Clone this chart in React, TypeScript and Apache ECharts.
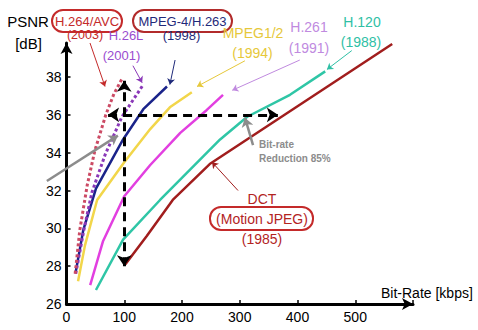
import React, { useEffect, useRef } from "react";
import * as echarts from "echarts";

// Curves: [bit-rate kbps, PSNR dB]
const dct = [[102, 28.1], [139, 29.6], [184, 31.5], [248, 33.4], [564, 39.75]];
const h120 = [[51, 26.74], [98, 29.4], [162, 31.5], [214, 33.1], [266, 34.7], [313, 35.9], [387, 37.06], [448, 38.3]];
const h261 = [[41, 27.0], [63, 29.3], [100, 31.7], [145, 33.35], [197, 35.05], [243, 36.26], [271, 37.06]];
const mpeg12 = [[20, 27.2], [32, 29.1], [53, 31.5], [100, 33.5], [145, 35.25], [179, 36.4], [217, 37.2]];
const mpeg4 = [[16, 27.7], [29, 29.9], [51, 32.1], [98, 34.7], [133, 36.3], [174, 37.5]];
const h26l = [[16, 27.6], [30, 29.9], [44, 31.9], [67, 33.9], [96, 35.9], [133, 37.6]];
const h264 = [[15, 27.6], [23, 29.9], [36, 32.3], [49, 34.1], [68, 36.0], [82, 37.1], [96, 37.9]];

// Annotation arrows (data coordinates)
const dashedArrows = [
  [[100, 28.0], [100, 37.8]],
  [[72, 36.0], [366, 36.0]],
];
const grayArrows = [
  [[-34, 32.5], [89, 34.9]],
  [[323, 34.4], [309, 35.85]],
];
const labelArrows = [
  { c: [[40.7, 39.8], [66.7, 37.5]], color: "#c42a2a" },
  { c: [[115, 38.6], [131, 37.7]], color: "#8a38b8" },
  { c: [[188, 38.9], [179, 37.6]], color: "#1f2a7a" },
  { c: [[309, 38.86], [226, 37.5]], color: "#e6c83a" },
  { c: [[404, 38.9], [287, 37.3]], color: "#c08adf" },
  { c: [[494, 39.4], [451, 38.4]], color: "#2fbfa5" },
  { c: [[297, 32.0], [252, 33.5]], color: "#a11d1d" },
];

const FONT = '"Liberation Sans", Arial, sans-serif';

export default function App() {
  const ref = useRef<HTMLDivElement>(null);
  useEffect(() => {
    const chart = echarts.init(ref.current!, null, { renderer: "svg" });
    const curve = (name: string, data: number[][], color: string, dotted = false) => ({
      name,
      type: "line",
      data,
      showSymbol: false,
      symbol: "none",
      clip: false,
      lineStyle: { color, width: dotted ? 3 : 2.5, type: dotted ? [3, 2.5] : "solid" },
      z: 3,
    });
    const txt = (text: string, x: number, y: number, color: string, size: number, align = "center", weight = "normal") => ({
      type: "text",
      x,
      y,
      z: 10,
      style: { text, fill: color, font: `${weight} ${size}px ${FONT}`, align, verticalAlign: "middle" },
    });
    const box = (x: number, y: number, w: number, h: number, color: string) => ({
      type: "rect",
      z: 9,
      shape: { x, y, width: w, height: h, r: 11 },
      style: { fill: "none", stroke: color, lineWidth: 2 },
    });
    chart.setOption({
      animation: false,
      backgroundColor: "#ffffff",
      grid: { left: 66.5, right: 65, top: 43, bottom: 26 },
      xAxis: {
        type: "value",
        min: 0,
        max: 600,
        interval: 100,
        splitLine: { show: false },
        axisLine: { lineStyle: { color: "#000", width: 3 }, symbol: ["none", "arrow"], symbolSize: [9, 11] },
        axisTick: { inside: true, length: 4, lineStyle: { color: "#000", width: 1.5 } },
        axisLabel: {
          color: "#000",
          fontSize: 14,
          fontFamily: FONT,
          margin: 6,
          formatter: (v: number) => (v <= 500 ? String(v) : ""),
        },
      },
      yAxis: {
        type: "value",
        min: 26,
        max: 39.8,
        interval: 2,
        splitLine: { show: false },
        axisLine: { lineStyle: { color: "#000", width: 3 }, symbol: ["none", "arrow"], symbolSize: [9, 11] },
        axisTick: { inside: true, length: 4, lineStyle: { color: "#000", width: 1.5 } },
        axisLabel: {
          color: "#000",
          fontSize: 14,
          fontFamily: FONT,
          margin: 5,
          showMaxLabel: false,
          formatter: (v: number) => (v % 2 === 0 ? String(v) : ""),
        },
      },
      series: [
        curve("DCT", dct, "#a11d1d"),
        curve("H.120", h120, "#2fc6a6"),
        curve("H.261", h261, "#e23fe0"),
        curve("MPEG1/2", mpeg12, "#f2d64a"),
        curve("MPEG-4/H.263", mpeg4, "#1a238a"),
        curve("H.26L", h26l, "#8a38b8", true),
        curve("H.264/AVC", h264, "#cc4a64", true),
        {
          type: "lines",
          coordinateSystem: "cartesian2d",
          clip: false,
          z: 5,
          symbol: ["arrow", "arrow"],
          symbolSize: 11,
          lineStyle: { color: "#000", width: 3, type: [9, 6], opacity: 1 },
          data: dashedArrows.map((c) => ({ coords: c })),
        },
        {
          type: "lines",
          coordinateSystem: "cartesian2d",
          clip: false,
          z: 6,
          symbol: ["none", "arrow"],
          symbolSize: 9,
          lineStyle: { color: "#8c8c8c", width: 2.5, opacity: 1 },
          data: grayArrows.map((c) => ({ coords: c })),
        },
        {
          type: "lines",
          coordinateSystem: "cartesian2d",
          clip: false,
          z: 6,
          symbol: ["none", "arrow"],
          symbolSize: 6,
          data: labelArrows.map((a) => ({ coords: a.c, lineStyle: { color: a.color, width: 1, opacity: 1 } })),
        },
      ],
      graphic: [
        txt("PSNR", 28, 21.5, "#000", 15),
        txt("[dB]", 28.5, 43, "#000", 15),
        box(52, 10, 70, 22, "#c42a2a"),
        txt("H.264/AVC", 87, 21, "#c42a2a", 13),
        txt("(2003)", 85, 35, "#c42a2a", 12.5),
        txt("H.26L", 126, 35, "#9a4ccf", 13),
        txt("(2001)", 121.5, 55, "#9a4ccf", 13),
        box(133, 10, 99, 22, "#b22b2b"),
        txt("MPEG-4/H.263", 182.5, 21, "#1f2a7a", 13),
        txt("(1998)", 181.5, 35, "#1f2a7a", 13),
        txt("MPEG1/2", 253, 33, "#e6c83a", 14),
        txt("(1994)", 252.5, 53, "#e6c83a", 14),
        txt("H.261", 309, 27, "#c08adf", 14),
        txt("(1991)", 309, 48, "#c08adf", 14),
        txt("H.120", 362, 22, "#2fbfa5", 14),
        txt("(1988)", 361, 42, "#2fbfa5", 14),
        txt("DCT", 262, 199, "#b3241f", 14),
        box(210, 207, 103, 23, "#c42a2a"),
        txt("(Motion JPEG)", 262, 218.5, "#b3241f", 14),
        txt("(1985)", 262, 239, "#b3241f", 14),
        txt("Bit-rate", 259, 144, "#8c8c8c", 10, "left", "bold"),
        txt("Reduction 85%", 259, 158, "#8c8c8c", 10, "left", "bold"),
        txt("Bit-Rate [kbps]", 381, 293, "#000", 14, "left"),
      ],
    });
    return () => chart.dispose();
  }, []);
  return <div ref={ref} style={{ position: "fixed", left: 0, top: 0, width: 478, height: 330 }} />;
}
